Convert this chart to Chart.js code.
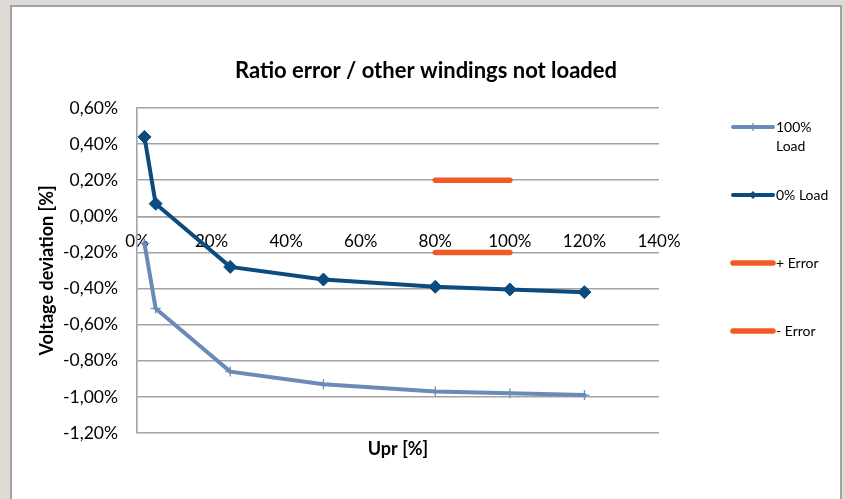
<!DOCTYPE html>
<html>
<head>
<meta charset="utf-8">
<script src="https://cdn.jsdelivr.net/npm/chart.js@4"></script>
<style>
  html, body { margin: 0; padding: 0; width: 845px; height: 499px; overflow: hidden; background: #dedad5; }
  #panel { position: absolute; left: 10px; top: 5px; width: 828px; height: 520px; background: #fff; border: 2px solid #a3a3a3; }
  #wrap { position: absolute; left: 0; top: 0; width: 845px; height: 499px; }
</style>
</head>
<body>
<div id="panel"></div>
<div id="wrap"><canvas id="chart" width="845" height="499"></canvas></div>
<script>
// Primary voltage points (% of rated) and measured ratio deviation (%)
const uprPoints = [2, 5, 25, 50, 80, 100, 120];
const load100 = [-0.15, -0.51, -0.86, -0.93, -0.97, -0.98, -0.99];
const load0 = [0.44, 0.07, -0.28, -0.35, -0.39, -0.405, -0.42];

// Error band limits between 80 % and 100 % Upr
const errorUpr = [80, 100];
const errorPlus = [0.2, 0.2];
const errorMinus = [-0.2, -0.2];

// Axis ticks
const xTickValues = [0, 20, 40, 60, 80, 100, 120, 140];
const yTickValues = [0.6, 0.4, 0.2, 0, -0.2, -0.4, -0.6, -0.8, -1.0, -1.2];

const seriesLabels = ['100% Load', '0% Load', '+ Error', '- Error'];

const FONT = 'Lato';
const GRID = '#a3a3a3';

const toPoints = (xs, ys) => xs.map((x, i) => ({ x, y: ys[i] }));
const pct = v => {
  const n = Math.abs(v) < 1e-9 ? 0 : v;
  return n.toFixed(2).replace('.', ',') + '%';
};

const decorations = {
  id: 'decorations',
  afterDraw(chart) {
    const { ctx, chartArea } = chart;
    ctx.save();
    ctx.fillStyle = '#000';
    ctx.textBaseline = 'middle';

    // Chart title
    ctx.textAlign = 'center';
    ctx.font = 'bold 22px ' + FONT;
    ctx.fillText('Ratio error / other windings not loaded', 426, 71);

    // Horizontal axis title
    ctx.font = 'bold 18px ' + FONT;
    ctx.fillText('Upr [%]', (chartArea.left + chartArea.right) / 2, 449);

    // Legend
    const x0 = 733, x1 = 773, top = 127, step = 68, maxW = 62;
    ctx.font = '14px ' + FONT;
    ctx.textAlign = 'left';
    chart.data.datasets.forEach((ds, i) => {
      const y = top + i * step;
      ctx.strokeStyle = ds.borderColor;
      ctx.lineWidth = ds.borderWidth;
      ctx.lineCap = 'round';
      ctx.beginPath();
      ctx.moveTo(x0, y);
      ctx.lineTo(x1, y);
      ctx.stroke();
      const mx = (x0 + x1) / 2;
      if (ds.pointStyle === 'cross') {
        ctx.lineWidth = 1.2;
        ctx.lineCap = 'butt';
        ctx.beginPath();
        ctx.moveTo(mx, y - 4); ctx.lineTo(mx, y + 4);
        ctx.stroke();
      } else if (ds.pointStyle === 'rectRot') {
        ctx.fillStyle = ds.pointBackgroundColor;
        ctx.beginPath();
        ctx.moveTo(mx - 4, y); ctx.lineTo(mx, y - 4);
        ctx.lineTo(mx + 4, y); ctx.lineTo(mx, y + 4);
        ctx.closePath();
        ctx.fill();
      }
      ctx.fillStyle = '#000';
      // wrap label onto several lines when it is too wide
      const words = ds.label.split(' ');
      const lines = [];
      let cur = '';
      words.forEach(w => {
        const t = cur ? cur + ' ' + w : w;
        if (cur && ctx.measureText(t).width > maxW) { lines.push(cur); cur = w; }
        else cur = t;
      });
      lines.push(cur);
      lines.forEach((ln, k) => ctx.fillText(ln, x1 + 3, y + k * 19));
    });
    ctx.restore();
  }
};

new Chart(document.getElementById('chart'), {
  type: 'line',
  data: {
    datasets: [
      {
        label: seriesLabels[0],
        data: toPoints(uprPoints, load100),
        borderColor: '#6a8bb7',
        backgroundColor: '#6a8bb7',
        borderWidth: 4,
        pointStyle: 'cross',
        pointRadius: 5,
        pointBorderWidth: 1.3,
        pointBorderColor: '#6a8bb7',
        pointBackgroundColor: '#6a8bb7',
        borderCapStyle: 'round'
      },
      {
        label: seriesLabels[1],
        data: toPoints(uprPoints, load0),
        borderColor: '#0c4b80',
        backgroundColor: '#0c4b80',
        borderWidth: 4,
        pointStyle: 'rectRot',
        pointRadius: 6.5,
        pointBorderWidth: 1,
        pointBorderColor: '#0c4b80',
        pointBackgroundColor: '#0c4b80'
      },
      {
        label: seriesLabels[2],
        data: toPoints(errorUpr, errorPlus),
        borderColor: '#f15a24',
        borderWidth: 5.5,
        borderCapStyle: 'round',
        pointRadius: 0
      },
      {
        label: seriesLabels[3],
        data: toPoints(errorUpr, errorMinus),
        borderColor: '#f15a24',
        borderWidth: 5.5,
        borderCapStyle: 'round',
        pointRadius: 0
      }
    ]
  },
  options: {
    responsive: false,
    animation: false,
    devicePixelRatio: 1,
    layout: { padding: { left: 10, right: 186, top: 108, bottom: 66 } },
    plugins: { legend: { display: false }, title: { display: false }, tooltip: { enabled: false } },
    scales: {
      x: {
        type: 'linear',
        position: { y: 0 },
        min: 0,
        max: 140,
        afterBuildTicks: s => { s.ticks = xTickValues.map(v => ({ value: v })); },
        ticks: {
          callback: v => v + '%',
          font: { family: FONT, size: 17 },
          color: '#000',
          padding: 15,
          maxRotation: 0,
          autoSkip: false
        },
        grid: { display: false, drawTicks: false },
        border: { display: true, color: GRID, width: 1.6 }
      },
      y: {
        type: 'linear',
        min: -1.2,
        max: 0.6,
        afterBuildTicks: s => { s.ticks = yTickValues.map(v => ({ value: v })); },
        afterFit: s => { s.width = 127; },
        ticks: {
          callback: v => pct(v),
          font: { family: FONT, size: 17.5 },
          color: '#000',
          padding: 19
        },
        grid: { color: GRID, lineWidth: 1.6, drawTicks: false },
        border: { display: true, color: GRID, width: 1.6 },
        title: {
          display: true,
          text: 'Voltage deviation [%]',
          font: { family: FONT, size: 18, weight: 'bold' },
          color: '#000',
          padding: { top: 26, bottom: 0 }
        }
      }
    }
  },
  plugins: [decorations]
});
</script>
</body>
</html>
